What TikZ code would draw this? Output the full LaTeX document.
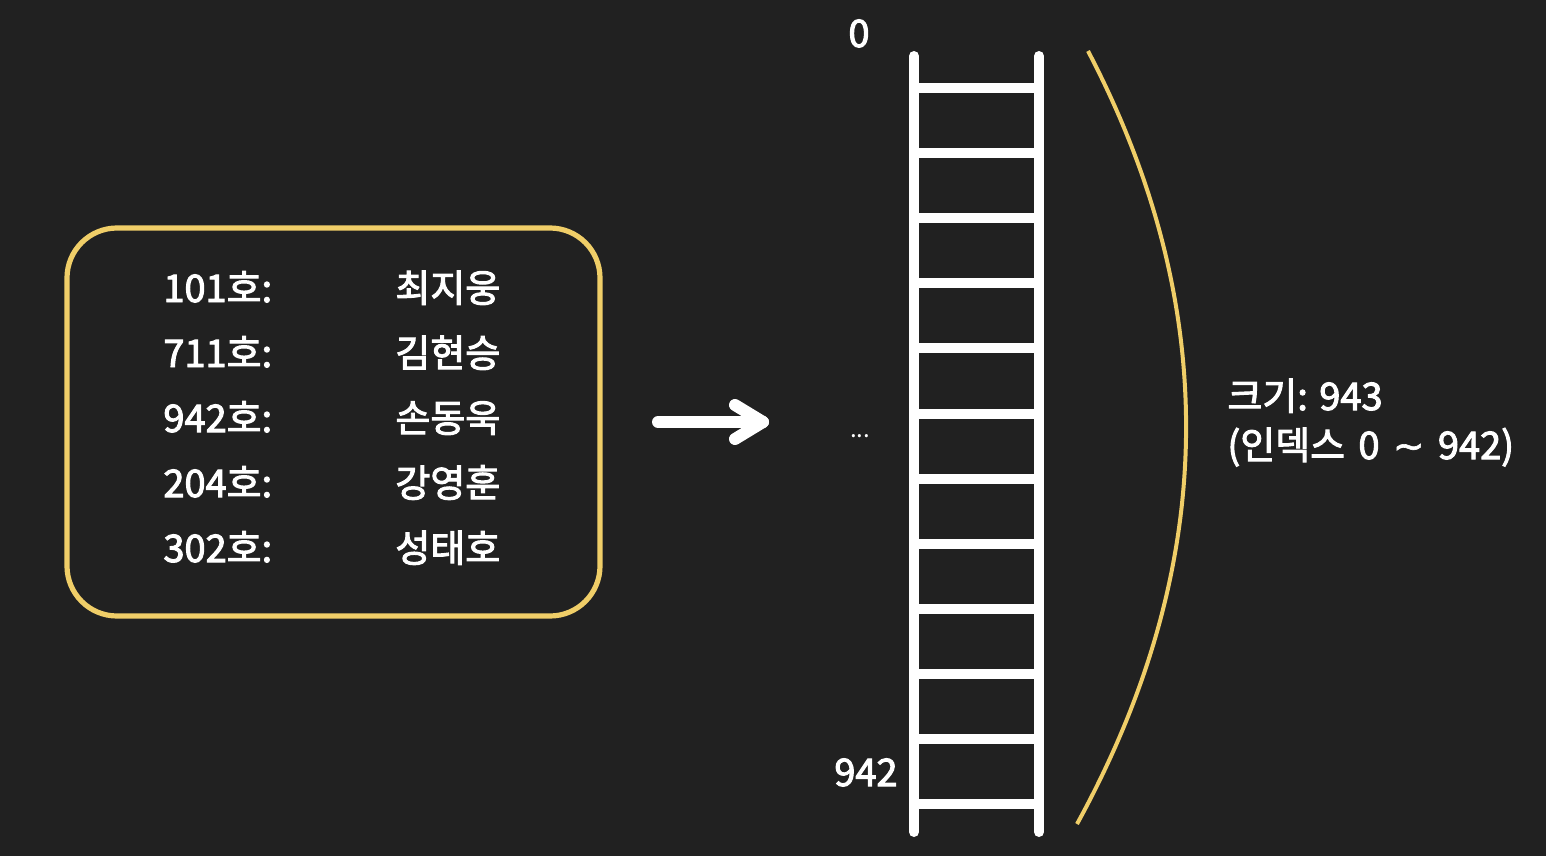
\documentclass[tikz,border=0pt]{standalone}
\usepackage{fontspec}
\setmainfont{Noto Sans CJK KR}
\newfontfamily\mfont[FakeBold=2.6]{Noto Sans CJK KR}
\newfontfamily\dvfont[FakeBold=1.6]{DejaVu Sans}
\definecolor{bg}{RGB}{33,33,33}
\definecolor{gold}{RGB}{240,206,104}
\begin{document}
\begin{tikzpicture}[x=0.5pt,y=-0.5pt,
  lbl/.style={text=white,font=\mfont\fontsize{19pt}{22pt}\selectfont,inner sep=0pt,anchor=base west},
  rail/.style={draw=white,line width=5pt,line cap=round},
  rung/.style={draw=white,line width=5pt},
  goldline/.style={draw=gold,line width=2pt}]
\path[fill=bg,use as bounding box] (0,0) rectangle (1546,856);
% box
\draw[draw=gold,line width=2.6pt,rounded corners=25pt] (67,228) rectangle (600,616);
\node[lbl] (k1) at (163,302) {101호:};
\node[lbl] (k2) at (163,367) {711호:};
\node[lbl] (k3) at (163,432) {942호:};
\node[lbl] (k4) at (163,497) {204호:};
\node[lbl] (k5) at (163,562) {302호:};
\node[lbl] (v1) at (395,302) {최지웅};
\node[lbl] (v2) at (395,367) {김현승};
\node[lbl] (v3) at (395,432) {손동욱};
\node[lbl] (v4) at (395,497) {강영훈};
\node[lbl] (v5) at (395,562) {성태호};
% arrow
\coordinate (as) at (658,422);
\coordinate (ae) at (763,422);
\draw[white,line width=6pt,line cap=round,line join=round] (as) -- (ae);
\draw[white,line width=6pt,line cap=round,line join=round] (735,405) -- (ae) -- (735,439);
% ladder
\draw[rail] (914,56) -- (914,832);
\draw[rail] (1039,56) -- (1039,832);
\foreach \i in {0,...,11}{
  \draw[rung] (914,{88+65.1*\i}) -- (1039,{88+65.1*\i});
}
\node[lbl,anchor=base] (top) at (859,47) {0};
\node[lbl,anchor=base east] (bot) at (898,786) {942};
\node[lbl,anchor=base,font=\fontsize{12pt}{14pt}\selectfont] (dots) at (860,437) {...};
% arc
\draw[goldline] (1088,51) .. controls (1222.3,308) and (1218.7,565.7) .. (1077,824);
\node[lbl] (s1) at (1227,410) {크기:\hspace{0.3em}943};
\node[lbl] (s2) at (1227,459) {(인덱스\hspace{0.35em}0\hspace{0.35em}{\dvfont\textasciitilde}\hspace{0.35em}942)};
\end{tikzpicture}
\end{document}
